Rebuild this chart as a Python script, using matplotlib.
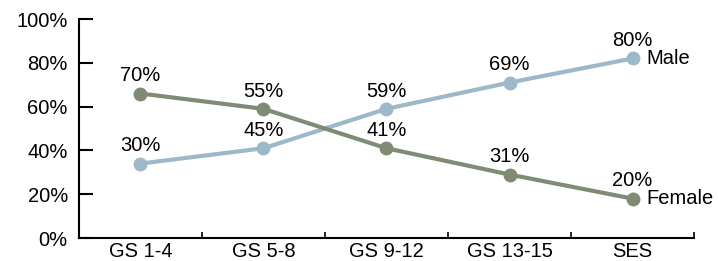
import numpy as np
import matplotlib
matplotlib.use("Agg")
import matplotlib.pyplot as plt

grades = ["GS 1-4", "GS 5-8", "GS 9-12", "GS 13-15", "SES"]
# where the points sit on the chart
male_plot = [34, 41, 59, 71, 82]
female_plot = [66, 59, 41, 29, 18]
# the values written above the points
male_labels = ["30%", "45%", "59%", "69%", "80%"]
female_labels = ["70%", "55%", "41%", "31%", "20%"]

male_color = "#9db8c8"
female_color = "#7f8c73"

plt.rcParams['font.family'] = ['Liberation Sans', 'DejaVu Sans']
plt.rcParams['font.size'] = 14.5

fig = plt.figure(figsize=(7.18, 2.61), dpi=100)
ax = fig.add_axes([0.110, 0.088, 0.8566, 0.839])

x = np.arange(len(grades))
ax.plot(x, male_plot, color=male_color, lw=3, marker='o', ms=9, zorder=3)
ax.plot(x, female_plot, color=female_color, lw=3, marker='o', ms=9, zorder=3)

for xi, v, lab in zip(x, male_plot, male_labels):
    ax.annotate(lab, (xi, v), xytext=(0, 6), textcoords='offset points',
                ha='center', va='bottom')
for xi, v, lab in zip(x, female_plot, female_labels):
    ax.annotate(lab, (xi, v), xytext=(0, 6), textcoords='offset points',
                ha='center', va='bottom')

ax.annotate("Male", (x[-1], male_plot[-1]), xytext=(10, 0), textcoords='offset points',
            ha='left', va='center')
ax.annotate("Female", (x[-1], female_plot[-1]), xytext=(10, 0), textcoords='offset points',
            ha='left', va='center')

ax.set_xlim(-0.5, len(grades) - 0.5)
ax.set_ylim(0, 100)
ax.set_yticks(range(0, 101, 20))
ax.set_yticklabels([f"{v}%" for v in range(0, 101, 20)])
ax.set_xticks(x)
ax.set_xticklabels(grades)
ax.set_xticks(np.arange(-0.5, len(grades), 1), minor=True)
ax.tick_params(axis='x', which='major', length=0, pad=3)
ax.tick_params(axis='x', which='minor', direction='in', length=4, width=1.2)
ax.tick_params(axis='y', direction='in', length=10, width=1.5, pad=8)

for s in ['top', 'right']:
    ax.spines[s].set_visible(False)
ax.spines['left'].set_linewidth(1.5)
ax.spines['bottom'].set_linewidth(1.5)

fig.savefig("out.png", dpi=100)
